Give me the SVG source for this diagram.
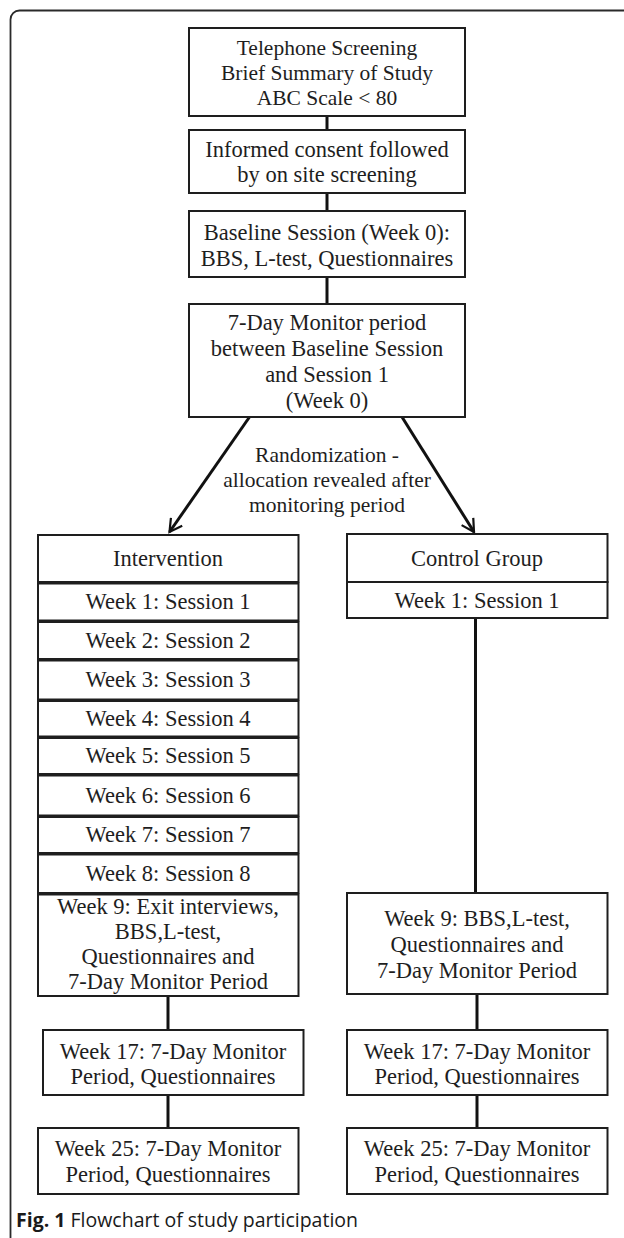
<svg xmlns="http://www.w3.org/2000/svg" width="624" height="1238" viewBox="0 0 624 1238">
<style>
.box{fill:#fff;stroke:#1e1e1e;stroke-width:2}
.t{font-family:"Liberation Serif","Times New Roman",serif;font-size:22.5px;fill:#1e1e1e;text-anchor:middle}
.tt{font-family:"Liberation Serif","Times New Roman",serif;font-size:21.5px;fill:#1e1e1e;text-anchor:middle}
.c{stroke:#111;stroke-width:3;fill:none}
.cap{font-family:"Open Sans","Noto Sans",sans-serif;font-size:19.5px;fill:#1a1a1a}
</style>
<defs>
<marker id="ah" viewBox="0 0 12 12" refX="10" refY="6" markerWidth="5.5" markerHeight="5.5" orient="auto" markerUnits="strokeWidth">
<path d="M1,1 L10,6 L1,11" fill="none" stroke="#111" stroke-width="1.6"/>
</marker>
</defs>
<rect width="624" height="1238" fill="#fff"/>
<rect id="frame" x="10.5" y="10.5" width="640" height="1236" rx="9" fill="none" stroke="#2a2a2a" stroke-width="1.8"/>

<g id="connectors">
<line class="c" x1="327" y1="116" x2="327" y2="130"/>
<line class="c" x1="327" y1="193" x2="327" y2="211"/>
<line class="c" x1="327" y1="277" x2="327" y2="304"/>
<line class="c" x1="249.5" y1="417" x2="169.5" y2="532" marker-end="url(#ah)"/>
<line class="c" x1="402" y1="417" x2="474" y2="532" marker-end="url(#ah)"/>
<line class="c" x1="475.5" y1="618" x2="475.5" y2="893"/>
<line class="c" x1="168" y1="996" x2="168" y2="1030"/>
<line class="c" x1="477" y1="994" x2="477" y2="1030"/>
<line class="c" x1="168" y1="1095" x2="168" y2="1128"/>
<line class="c" x1="477" y1="1095" x2="477" y2="1128"/>
</g>

<g id="n-telephone">
<rect class="box" x="189" y="28" width="276" height="88"/>
<text class="tt" x="327" y="54.5">Telephone Screening</text>
<text class="tt" x="327" y="79.5">Brief Summary of Study</text>
<text class="tt" x="327" y="104.5">ABC Scale &lt; 80</text>
</g>
<g id="n-consent">
<rect class="box" x="189" y="130" width="276" height="63"/>
<text class="t" x="327" y="157">Informed consent followed</text>
<text class="t" x="327" y="182">by on site screening</text>
</g>
<g id="n-baseline">
<rect class="box" x="189" y="211" width="276" height="66"/>
<text class="t" x="327" y="240">Baseline Session (Week 0):</text>
<text class="t" x="327" y="266">BBS, L-test, Questionnaires</text>
</g>
<g id="n-monitor">
<rect class="box" x="189" y="304" width="276" height="113"/>
<text class="t" x="327" y="330">7-Day Monitor period</text>
<text class="t" x="327" y="356">between Baseline Session</text>
<text class="t" x="327" y="382">and Session 1</text>
<text class="t" x="327" y="408">(Week 0)</text>
</g>
<g id="label-randomization">
<text class="tt" x="327" y="461.7">Randomization -</text>
<text class="tt" x="327" y="486.7">allocation revealed after</text>
<text class="tt" x="327" y="511.7">monitoring period</text>
</g>

<g id="n-intervention">
<rect class="box" x="38" y="535" width="260.5" height="47"/>
<text class="t" x="168" y="566">Intervention</text>
</g>
<g id="n-i-week1"><rect class="box" x="38" y="583.5" width="260.5" height="37"/><text class="t" x="168" y="609">Week 1: Session 1</text></g>
<g id="n-i-week2"><rect class="box" x="38" y="622" width="260.5" height="37"/><text class="t" x="168" y="647.5">Week 2: Session 2</text></g>
<g id="n-i-week3"><rect class="box" x="38" y="660.5" width="260.5" height="39"/><text class="t" x="168" y="687">Week 3: Session 3</text></g>
<g id="n-i-week4"><rect class="box" x="38" y="701" width="260.5" height="35.5"/><text class="t" x="168" y="726">Week 4: Session 4</text></g>
<g id="n-i-week5"><rect class="box" x="38" y="738" width="260.5" height="36"/><text class="t" x="168" y="763">Week 5:  Session 5</text></g>
<g id="n-i-week6"><rect class="box" x="38" y="775.5" width="260.5" height="40"/><text class="t" x="168" y="802.5">Week 6: Session 6</text></g>
<g id="n-i-week7"><rect class="box" x="38" y="817" width="260.5" height="36"/><text class="t" x="168" y="842">Week 7: Session 7</text></g>
<g id="n-i-week8"><rect class="box" x="38" y="854.5" width="260.5" height="38.5"/><text class="t" x="168" y="880.5">Week 8: Session 8</text></g>
<g id="n-i-week9">
<rect class="box" x="38" y="894.5" width="260.5" height="101.5"/>
<text class="t" x="168" y="914">Week 9: Exit interviews,</text>
<text class="t" x="168" y="939">BBS,L-test,</text>
<text class="t" x="168" y="964">Questionnaires and</text>
<text class="t" x="168" y="989">7-Day Monitor Period</text>
</g>
<g id="n-i-week17">
<rect class="box" x="43" y="1030" width="260.5" height="65"/>
<text class="t" x="173" y="1059">Week 17: 7-Day Monitor</text>
<text class="t" x="173" y="1084">Period, Questionnaires</text>
</g>
<g id="n-i-week25">
<rect class="box" x="38" y="1128" width="260.5" height="66"/>
<text class="t" x="168" y="1155.5">Week 25: 7-Day Monitor</text>
<text class="t" x="168" y="1182">Period, Questionnaires</text>
</g>

<g id="n-control">
<rect class="box" x="347" y="534" width="260.5" height="48"/>
<text class="t" x="477" y="566">Control Group</text>
</g>
<g id="n-c-week1"><rect class="box" x="347" y="582" width="260.5" height="36"/><text class="t" x="477" y="607.5">Week 1: Session 1</text></g>
<g id="n-c-week9">
<rect class="box" x="347" y="893" width="260.5" height="101"/>
<text class="t" x="477" y="926">Week 9: BBS,L-test,</text>
<text class="t" x="477" y="951.5">Questionnaires and</text>
<text class="t" x="477" y="977.5">7-Day Monitor Period</text>
</g>
<g id="n-c-week17">
<rect class="box" x="347" y="1030" width="260.5" height="65"/>
<text class="t" x="477" y="1059">Week 17: 7-Day Monitor</text>
<text class="t" x="477" y="1084">Period, Questionnaires</text>
</g>
<g id="n-c-week25">
<rect class="box" x="347" y="1128" width="260.5" height="66"/>
<text class="t" x="477" y="1155.5">Week 25: 7-Day Monitor</text>
<text class="t" x="477" y="1182">Period, Questionnaires</text>
</g>

<text class="cap" x="16" y="1227"><tspan font-weight="bold">Fig. 1</tspan> Flowchart of study participation</text>
</svg>
